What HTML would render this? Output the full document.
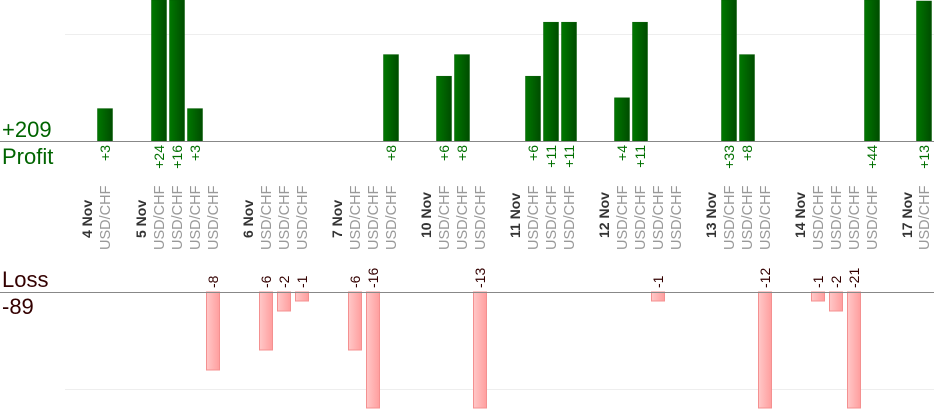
<!DOCTYPE html>
<html><head><meta charset="utf-8"><style>
html,body{margin:0;padding:0;background:#fff;}
svg{display:block;font-family:"Liberation Sans",Arial,sans-serif;}
.pv{fill:#007000;font-size:14px;}
.lv{fill:#330000;font-size:14px;}
.sym{fill:#999;font-size:14.5px;}
.dt{fill:#333;font-size:14px;font-weight:bold;}
</style></head><body>
<svg width="934" height="420" viewBox="0 0 934 420" xmlns="http://www.w3.org/2000/svg">
<defs>
<linearGradient id="g" x1="0" x2="1" y1="0" y2="0"><stop offset="0" stop-color="#007800"/><stop offset="1" stop-color="#004c00"/></linearGradient>
<linearGradient id="r" x1="0" x2="1" y1="0" y2="0"><stop offset="0" stop-color="#ffc8c8"/><stop offset="1" stop-color="#ff9e9e"/></linearGradient>
</defs>
<line x1="65" y1="34.5" x2="934" y2="34.5" stroke="#eee"/>
<line x1="65" y1="389.5" x2="934" y2="389.5" stroke="#eee"/>
<g fill="url(#g)" stroke="#005a00" stroke-width="0.5">
<rect x="97.5" y="108.6" width="15" height="32.4"/>
<rect x="151.5" y="0" width="15" height="141"/>
<rect x="169.5" y="0" width="15" height="141"/>
<rect x="187.5" y="108.6" width="15" height="32.4"/>
<rect x="383.5" y="54.6" width="15" height="86.4"/>
<rect x="436.5" y="76.2" width="15" height="64.8"/>
<rect x="454.5" y="54.6" width="15" height="86.4"/>
<rect x="525.5" y="76.2" width="15" height="64.8"/>
<rect x="543.5" y="22.2" width="15" height="118.8"/>
<rect x="561.5" y="22.2" width="15" height="118.8"/>
<rect x="614.5" y="97.8" width="15" height="43.2"/>
<rect x="632.5" y="22.2" width="15" height="118.8"/>
<rect x="721.5" y="0" width="15" height="141"/>
<rect x="739.5" y="54.6" width="15" height="86.4"/>
<rect x="864.5" y="0" width="15" height="141"/>
<rect x="916.5" y="1" width="15" height="140"/>
</g>
<g fill="url(#r)" stroke="#f49090" stroke-width="1">
<rect x="206.5" y="292" width="13" height="78"/>
<rect x="259.5" y="292" width="13" height="58"/>
<rect x="277.5" y="292" width="13" height="19"/>
<rect x="295.5" y="292" width="13" height="9"/>
<rect x="348.5" y="292" width="13" height="58"/>
<rect x="366.5" y="292" width="13" height="116"/>
<rect x="473.5" y="292" width="13" height="116"/>
<rect x="651.5" y="292" width="13" height="9"/>
<rect x="758.5" y="292" width="13" height="116"/>
<rect x="811.5" y="292" width="13" height="9"/>
<rect x="829.5" y="292" width="13" height="19"/>
<rect x="847.5" y="292" width="13" height="116"/>
</g>
<line x1="0" y1="141.5" x2="934" y2="141.5" stroke="#888"/>
<line x1="0" y1="292.5" x2="934" y2="292.5" stroke="#888"/>
<text x="2" y="137" font-size="22" fill="#006400">+209</text>
<text x="2" y="164" font-size="22" fill="#006400">Profit</text>
<text x="2" y="287" font-size="22" fill="#330000">Loss</text>
<text x="2" y="314" font-size="22" fill="#330000">-89</text>
<g class="pv" text-anchor="end">
<text transform="translate(110,145) rotate(-90)">+3</text>
<text transform="translate(164,145) rotate(-90)">+24</text>
<text transform="translate(182,145) rotate(-90)">+16</text>
<text transform="translate(200,145) rotate(-90)">+3</text>
<text transform="translate(396,145) rotate(-90)">+8</text>
<text transform="translate(449,145) rotate(-90)">+6</text>
<text transform="translate(467,145) rotate(-90)">+8</text>
<text transform="translate(538,145) rotate(-90)">+6</text>
<text transform="translate(556,145) rotate(-90)">+11</text>
<text transform="translate(574,145) rotate(-90)">+11</text>
<text transform="translate(627,145) rotate(-90)">+4</text>
<text transform="translate(645,145) rotate(-90)">+11</text>
<text transform="translate(734,145) rotate(-90)">+33</text>
<text transform="translate(752,145) rotate(-90)">+8</text>
<text transform="translate(877,145) rotate(-90)">+44</text>
<text transform="translate(929,145) rotate(-90)">+13</text>
</g>
<g class="lv" text-anchor="start">
<text transform="translate(218,288) rotate(-90)">-8</text>
<text transform="translate(271,288) rotate(-90)">-6</text>
<text transform="translate(289,288) rotate(-90)">-2</text>
<text transform="translate(307,288) rotate(-90)">-1</text>
<text transform="translate(360,288) rotate(-90)">-6</text>
<text transform="translate(378,288) rotate(-90)">-16</text>
<text transform="translate(485,288) rotate(-90)">-13</text>
<text transform="translate(663,288) rotate(-90)">-1</text>
<text transform="translate(770,288) rotate(-90)">-12</text>
<text transform="translate(823,288) rotate(-90)">-1</text>
<text transform="translate(841,288) rotate(-90)">-2</text>
<text transform="translate(859,288) rotate(-90)">-21</text>
</g>
<g class="dt" text-anchor="start">
<text transform="translate(92,238) rotate(-90)">4 Nov</text>
<text transform="translate(146,238) rotate(-90)">5 Nov</text>
<text transform="translate(253,238) rotate(-90)">6 Nov</text>
<text transform="translate(342,238) rotate(-90)">7 Nov</text>
<text transform="translate(431,238) rotate(-90)">10 Nov</text>
<text transform="translate(520,238) rotate(-90)">11 Nov</text>
<text transform="translate(609,238) rotate(-90)">12 Nov</text>
<text transform="translate(716,238) rotate(-90)">13 Nov</text>
<text transform="translate(805,238) rotate(-90)">14 Nov</text>
<text transform="translate(912,238) rotate(-90)">17 Nov</text>
</g>
<g class="sym" text-anchor="start">
<text transform="translate(110,250) rotate(-90)">USD/CHF</text>
<text transform="translate(164,250) rotate(-90)">USD/CHF</text>
<text transform="translate(182,250) rotate(-90)">USD/CHF</text>
<text transform="translate(200,250) rotate(-90)">USD/CHF</text>
<text transform="translate(218,250) rotate(-90)">USD/CHF</text>
<text transform="translate(271,250) rotate(-90)">USD/CHF</text>
<text transform="translate(289,250) rotate(-90)">USD/CHF</text>
<text transform="translate(307,250) rotate(-90)">USD/CHF</text>
<text transform="translate(360,250) rotate(-90)">USD/CHF</text>
<text transform="translate(378,250) rotate(-90)">USD/CHF</text>
<text transform="translate(396,250) rotate(-90)">USD/CHF</text>
<text transform="translate(449,250) rotate(-90)">USD/CHF</text>
<text transform="translate(467,250) rotate(-90)">USD/CHF</text>
<text transform="translate(485,250) rotate(-90)">USD/CHF</text>
<text transform="translate(538,250) rotate(-90)">USD/CHF</text>
<text transform="translate(556,250) rotate(-90)">USD/CHF</text>
<text transform="translate(574,250) rotate(-90)">USD/CHF</text>
<text transform="translate(627,250) rotate(-90)">USD/CHF</text>
<text transform="translate(645,250) rotate(-90)">USD/CHF</text>
<text transform="translate(663,250) rotate(-90)">USD/CHF</text>
<text transform="translate(681,250) rotate(-90)">USD/CHF</text>
<text transform="translate(734,250) rotate(-90)">USD/CHF</text>
<text transform="translate(752,250) rotate(-90)">USD/CHF</text>
<text transform="translate(770,250) rotate(-90)">USD/CHF</text>
<text transform="translate(823,250) rotate(-90)">USD/CHF</text>
<text transform="translate(841,250) rotate(-90)">USD/CHF</text>
<text transform="translate(859,250) rotate(-90)">USD/CHF</text>
<text transform="translate(877,250) rotate(-90)">USD/CHF</text>
<text transform="translate(929,250) rotate(-90)">USD/CHF</text>
</g>
</svg>
</body></html>
